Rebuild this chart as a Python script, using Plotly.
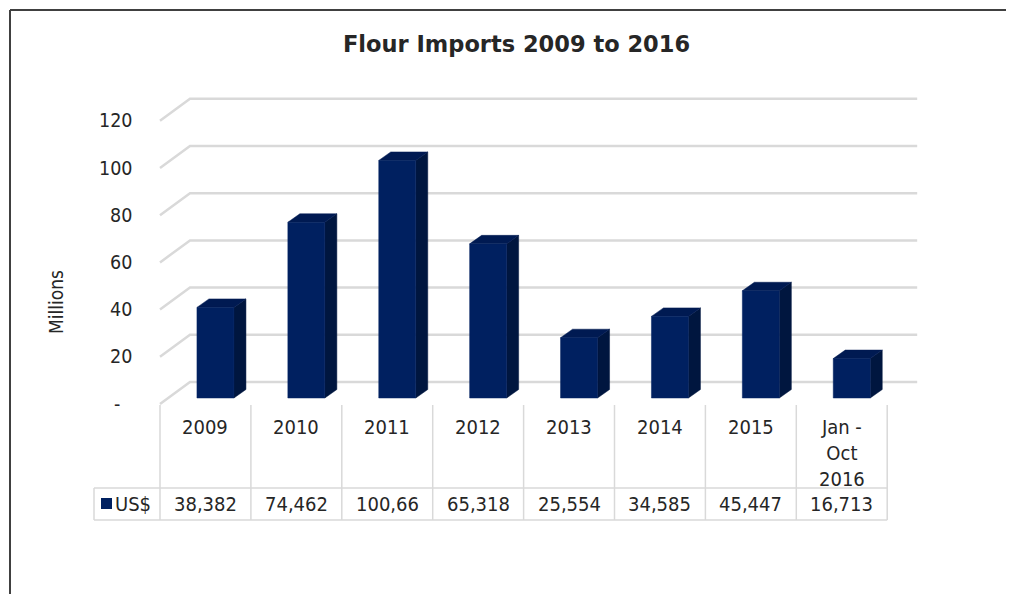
import plotly.graph_objects as go

# ---------------- data ----------------
categories = ["2009", "2010", "2011", "2012", "2013", "2014", "2015", "Jan -<br>Oct<br>2016"]
values_musd = [38.382, 74.462, 100.66, 65.318, 25.554, 34.585, 45.447, 16.713]
value_labels = ["38,382", "74,462", "100,66", "65,318", "25,554", "34,585", "45,447", "16,713"]
series_name = "US$"
y_tick_vals = [0, 20, 40, 60, 80, 100, 120]
y_tick_text = ["-", "20", "40", "60", "80", "100", "120"]
title_text = "Flour Imports 2009 to 2016"
y_title = "Millions"

# ---------------- geometry / style ----------------
PAGE_OFF = 8           # default body margin of the html page
W, H = 1014 - PAGE_OFF, 594 - PAGE_OFF
SLOT_W = 90.9          # px per category
SLOT0 = 205.45         # px centre of first category on the front plane
Y0_PX = 404.0          # px of value 0 on the front plane
PPU = 2.36             # px per unit

def xp(px):
    return (px - PAGE_OFF) / W

def yp(py):
    return 1 - (py - PAGE_OFF) / H

def px_to_x(px):
    return (px - SLOT0) / SLOT_W

def py_to_v(py):
    return (Y0_PX - py) / PPU

X_DOM_PX = (90, 925)
Y_DOM_PX = (420, 85)

DX_BACK = 30 / SLOT_W
DY_BACK = 22 / PPU
BAR_DX = 10 / SLOT_W
BAR_BASE = 6 / PPU
BAR_HALF = 18.5 / SLOT_W
BAR_DEPTH_X = 12 / SLOT_W
BAR_DEPTH_Y = 8.5 / PPU

FRONT = "#002060"
SIDE = "#00163f"
TOP = "#001a52"
GRID = "#d9d9d9"
TEXT = "#262626"
FONT = "DejaVu Sans Condensed, DejaVu Sans, sans-serif"

n = len(categories)
fig = go.Figure()

# back wall grid + side wall diagonals
gx, gy = [], []
for v in y_tick_vals:
    gx += [-0.5, -0.5 + DX_BACK, n - 0.5 + DX_BACK, None]
    gy += [v, v + DY_BACK, v + DY_BACK, None]
fig.add_trace(go.Scatter(x=gx, y=gy, mode="lines", line=dict(color=GRID, width=2.5),
                         hoverinfo="skip", showlegend=False))

# bars (3D-like columns)
fx, fy, sx, sy, tx, ty = [], [], [], [], [], []
for i, v in enumerate(values_musd):
    xl = i + BAR_DX - BAR_HALF
    xr = i + BAR_DX + BAR_HALF
    b = BAR_BASE
    t = BAR_BASE + v
    fx += [xl, xr, xr, xl, xl, None]
    fy += [b, b, t, t, b, None]
    sx += [xr, xr + BAR_DEPTH_X, xr + BAR_DEPTH_X, xr, xr, None]
    sy += [b, b + BAR_DEPTH_Y, t + BAR_DEPTH_Y, t, b, None]
    tx += [xl, xr, xr + BAR_DEPTH_X, xl + BAR_DEPTH_X, xl, None]
    ty += [t, t, t + BAR_DEPTH_Y, t + BAR_DEPTH_Y, t, None]

for xs, ys, col in [(sx, sy, SIDE), (tx, ty, TOP), (fx, fy, FRONT)]:
    fig.add_trace(go.Scatter(x=xs, y=ys, mode="lines", fill="toself", fillcolor=col,
                             line=dict(color=col, width=0.5), hoverinfo="skip",
                             showlegend=False))

annotations = []
# y tick labels
for v, t in zip(y_tick_vals, y_tick_text):
    annotations.append(dict(x=xp(134), xref="paper", y=v, yref="y", text=t,
                            showarrow=False, xanchor="right", yanchor="middle",
                            xshift=-12 if t == "-" else 0,
                            font=dict(family=FONT, size=19.5, color=TEXT)))
# y title
annotations.append(dict(x=xp(56), y=yp(302), xref="paper", yref="paper", text=y_title,
                        textangle=-90, showarrow=False, xanchor="center", yanchor="middle",
                        font=dict(family=FONT, size=19, color=TEXT)))
# title
annotations.append(dict(x=xp(517), y=yp(44), xref="paper", yref="paper",
                        text="<b>" + title_text + "</b>", showarrow=False,
                        xanchor="center", yanchor="middle",
                        font=dict(family="DejaVu Sans, sans-serif", size=22.5, color=TEXT)))
# data table text
for i, (c, lab) in enumerate(zip(categories, value_labels)):
    annotations.append(dict(x=i, xref="x", y=yp(413), yref="paper", text=c,
                            showarrow=False, xanchor="center", yanchor="top",
                            font=dict(family=FONT, size=20, color=TEXT)))
    annotations.append(dict(x=i, xref="x", y=yp(504), yref="paper", text=lab,
                            showarrow=False, xanchor="center", yanchor="middle",
                            font=dict(family=FONT, size=20, color=TEXT)))
annotations.append(dict(x=xp(113), xref="paper", y=yp(504), yref="paper", text=series_name,
                        showarrow=False, xanchor="left", yanchor="middle",
                        font=dict(family=FONT, size=20, color=TEXT)))

shapes = []
TL = dict(color=GRID, width=1.5)
# table vertical dividers
for i in range(n + 1):
    shapes.append(dict(type="line", xref="x", yref="paper", x0=i - 0.5, x1=i - 0.5,
                       y0=yp(405), y1=yp(520), line=TL))
# value row borders
xleft = px_to_x(94)
for py in (488, 520):
    shapes.append(dict(type="line", xref="x", yref="paper", x0=xleft, x1=n - 0.5,
                       y0=yp(py), y1=yp(py), line=TL))
shapes.append(dict(type="line", xref="x", yref="paper", x0=xleft, x1=xleft,
                   y0=yp(488), y1=yp(520), line=TL))
# legend key square
shapes.append(dict(type="rect", xref="paper", yref="paper", x0=xp(101), x1=xp(112),
                   y0=yp(498), y1=yp(509), fillcolor=FRONT, line=dict(width=0)))
# outer frame (left and top edges)
FR = dict(color="#404040", width=2)
shapes.append(dict(type="line", xref="paper", yref="paper", x0=xp(10), x1=xp(10),
                   y0=yp(10), y1=0, line=FR))
shapes.append(dict(type="line", xref="paper", yref="paper", x0=xp(10), x1=1,
                   y0=yp(10), y1=yp(10), line=FR))

fig.update_layout(
    width=W, height=H, autosize=False,
    margin=dict(l=0, r=0, t=0, b=0),
    paper_bgcolor="white", plot_bgcolor="white",
    showlegend=False,
    xaxis=dict(domain=[xp(X_DOM_PX[0]), xp(X_DOM_PX[1])],
               range=[px_to_x(X_DOM_PX[0]), px_to_x(X_DOM_PX[1])],
               visible=False, fixedrange=True),
    yaxis=dict(domain=[yp(Y_DOM_PX[0]), yp(Y_DOM_PX[1])],
               range=[py_to_v(Y_DOM_PX[0]), py_to_v(Y_DOM_PX[1])],
               visible=False, fixedrange=True),
    annotations=annotations,
    shapes=shapes,
)

fig.write_html("out.html", config={"displayModeBar": False})
